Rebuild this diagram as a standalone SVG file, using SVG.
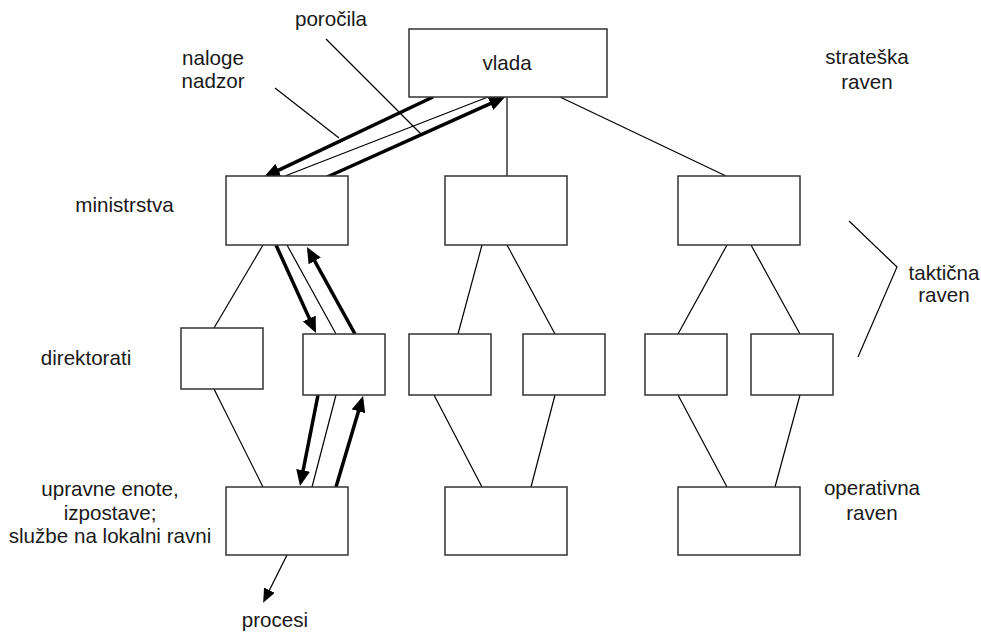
<svg xmlns="http://www.w3.org/2000/svg" width="981" height="632" viewBox="0 0 981 632">
<defs>
<style>
.box{fill:#fff;stroke:#333;stroke-width:1.5}
.ln{stroke:#000;stroke-width:1.2;fill:none}
.thick{stroke:#000;stroke-width:3.5;fill:none;marker-end:url(#big)}
.t{font-family:"Liberation Sans",Arial,sans-serif;font-size:20.6px;fill:#1a1a1a;text-anchor:middle}
</style>
<marker id="big" markerUnits="userSpaceOnUse" markerWidth="16" markerHeight="14" refX="12" refY="7" orient="auto"><path d="M0,0 L16,7 L0,14 z" fill="#000"/></marker>
<marker id="small" markerUnits="userSpaceOnUse" markerWidth="14" markerHeight="12" refX="11" refY="6" orient="auto"><path d="M0,0 L14,6 L0,12 z" fill="#000"/></marker>
</defs>
<rect width="981" height="632" fill="#fff"/>
<g id="connectors">
<line class="ln" x1="507" y1="97" x2="507" y2="176"/>
<line class="ln" x1="560" y1="97" x2="726" y2="176"/>
<line class="ln" x1="263" y1="245" x2="214" y2="328"/>
<line class="ln" x1="214" y1="389" x2="263" y2="487"/>
<line class="ln" x1="287" y1="245" x2="336" y2="334"/>
<line class="ln" x1="336" y1="395" x2="312" y2="487"/>
<line class="ln" x1="482" y1="245" x2="458" y2="334"/>
<line class="ln" x1="507" y1="245" x2="555" y2="334"/>
<line class="ln" x1="434" y1="395" x2="482" y2="487"/>
<line class="ln" x1="555" y1="395" x2="531" y2="487"/>
<line class="ln" x1="727" y1="245" x2="678" y2="334"/>
<line class="ln" x1="751" y1="245" x2="800" y2="334"/>
<line class="ln" x1="678" y1="395" x2="727" y2="487"/>
<line class="ln" x1="800" y1="395" x2="775" y2="487"/>
<line class="ln" x1="285" y1="176" x2="488" y2="97"/>
<line class="thick" x1="433" y1="97" x2="267.6" y2="175.3"/>
<line class="thick" x1="327" y1="177" x2="501.4" y2="98.6"/>
<line class="thick" x1="276" y1="245" x2="314.3" y2="329.4"/>
<line class="thick" x1="355" y1="334" x2="308.9" y2="250.5"/>
<line class="thick" x1="318" y1="395" x2="300.8" y2="482.1"/>
<line class="thick" x1="336" y1="487" x2="361.9" y2="399.8"/>
<line class="ln" x1="287" y1="555" x2="264.5" y2="600" marker-end="url(#small)"/>
<line class="ln" x1="326" y1="39" x2="421" y2="134"/>
<line class="ln" x1="275" y1="88" x2="339" y2="138"/>
<polyline class="ln" points="849,221 897,267 858,357"/>
</g>
<g id="vlada"><rect class="box" x="409" y="29" width="198" height="68"/><text class="t" x="507" y="70">vlada</text></g>
<g id="min1"><rect class="box" x="226" y="176" width="122" height="69"/></g>
<g id="min2"><rect class="box" x="445" y="176" width="122" height="69"/></g>
<g id="min3"><rect class="box" x="678" y="176" width="122" height="69"/></g>
<g id="dir1"><rect class="box" x="181" y="328" width="82" height="61"/></g>
<g id="dir2"><rect class="box" x="303" y="334" width="82" height="61"/></g>
<g id="dir3"><rect class="box" x="409" y="334" width="82" height="61"/></g>
<g id="dir4"><rect class="box" x="523" y="334" width="82" height="61"/></g>
<g id="dir5"><rect class="box" x="645" y="334" width="82" height="61"/></g>
<g id="dir6"><rect class="box" x="751" y="334" width="82" height="61"/></g>
<g id="op1"><rect class="box" x="226" y="487" width="122" height="68"/></g>
<g id="op2"><rect class="box" x="445" y="487" width="122" height="68"/></g>
<g id="op3"><rect class="box" x="678" y="487" width="122" height="68"/></g>
<g id="labels">
<text class="t" x="331" y="26">poročila</text>
<text class="t" x="213" y="65">naloge</text>
<text class="t" x="213" y="88">nadzor</text>
<text class="t" x="867" y="64">strateška</text>
<text class="t" x="867" y="89">raven</text>
<text class="t" x="124.5" y="212">ministrstva</text>
<text class="t" x="86" y="365">direktorati</text>
<text class="t" x="110" y="496">upravne enote,</text>
<text class="t" x="110" y="520">izpostave;</text>
<text class="t" x="110" y="543">službe na lokalni ravni</text>
<text class="t" x="944" y="280">taktična</text>
<text class="t" x="944" y="302">raven</text>
<text class="t" x="872" y="495">operativna</text>
<text class="t" x="872" y="520">raven</text>
<text class="t" x="275" y="627">procesi</text>
</g>
</svg>
